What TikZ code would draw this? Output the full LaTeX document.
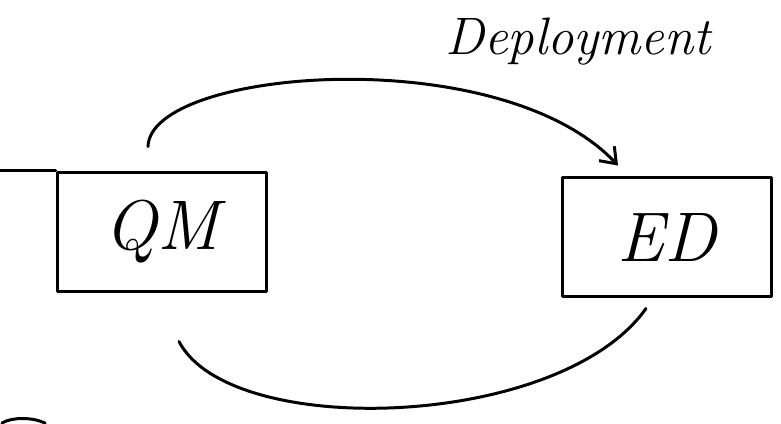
\documentclass[tikz,border=0pt]{standalone}
\usepackage{tikz}
\usetikzlibrary{arrows.meta,calc,positioning}

\begin{document}
\begin{tikzpicture}[
    x=0.02cm, y=-0.02cm,
    line width=1.7pt,
    line cap=round, line join=round,
    box/.style={draw,rectangle,minimum width=4.2cm,minimum height=2.4cm,
        font=\fontsize{40}{40}\selectfont\itshape},
    tag/.style={font=\fontsize{30}{30}\selectfont\itshape},
    arr/.style={-{Straight Barb[length=8pt,width=12pt]}}
]
    \useasboundingbox (0,0) rectangle (781,423);
    \node[box] (qm) at (162,232) {QM};
    \node[box] (ed) at (667,237) {ED};
    \node[tag] (dep) at (578,42) {Deployment};
    % top edge of QM runs on to the left
    \coordinate (lead) at ([xshift=-43]qm.north west);
    \draw (lead) -- (qm.north west);
    \coordinate (start) at ([shift={(-14,-24)}]qm.north);
    \coordinate (back) at ([shift={(17,48)}]qm.south);
    \draw[arr] (start) .. controls ($(start)+(2,-78)$) and (500,40) .. ([shift={(-49,-10)}]ed.north);
    \draw (back) .. controls (230,440) and (560,430) .. ([shift={(-21,10)}]ed.south);
    \draw (2,423) .. controls (12,417) and (32,417) .. (45,423);
\end{tikzpicture}
\end{document}
